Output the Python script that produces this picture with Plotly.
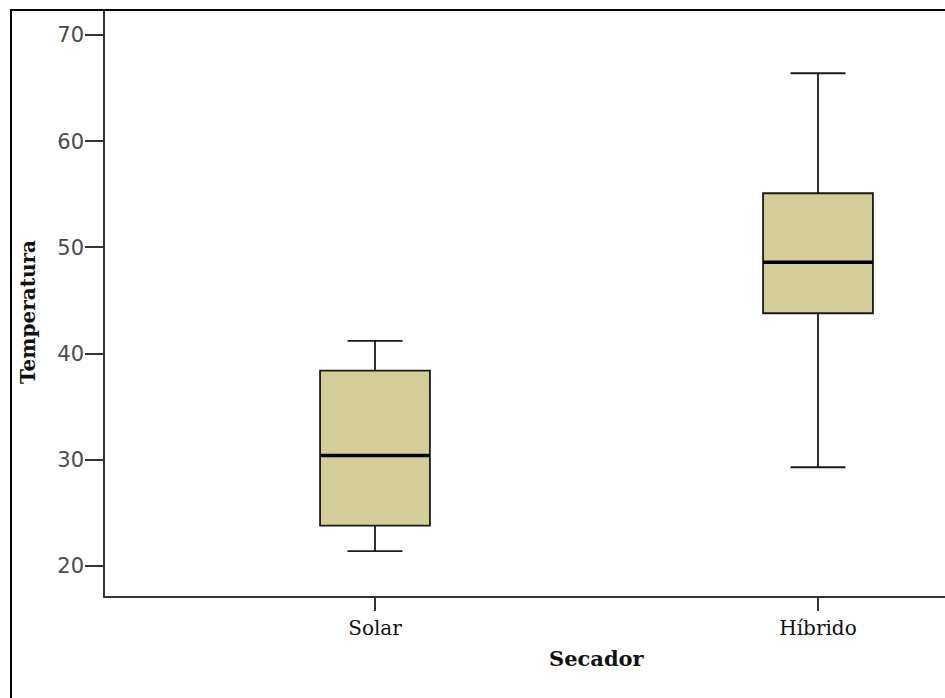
import plotly.graph_objects as go

# Summary statistics of temperature per dryer type
secadores = ["Solar", "Híbrido"]
minimos = [21.4, 29.3]
q1 = [23.8, 43.8]
medianas = [30.4, 48.6]
q3 = [38.4, 55.1]
maximos = [41.2, 66.4]

y_ticks = [20, 30, 40, 50, 60, 70]

pos = list(range(len(secadores)))
box_w = 0.248
fill = "#D3CE99"

fig = go.Figure()
for i, nombre in enumerate(secadores):
    fig.add_trace(go.Box(
        x=[pos[i]],
        q1=[q1[i]], median=[medianas[i]], q3=[q3[i]],
        lowerfence=[minimos[i]], upperfence=[maximos[i]],
        width=box_w, whiskerwidth=0.5,
        fillcolor=fill,
        line=dict(color="#1a1a1a", width=1.8),
        boxpoints=False, hoverinfo="skip", showlegend=False,
        name=nombre,
    ))
    # heavier median stroke
    fig.add_trace(go.Scatter(
        x=[pos[i] - box_w / 2, pos[i] + box_w / 2],
        y=[medianas[i], medianas[i]],
        mode="lines", line=dict(color="black", width=3.5),
        hoverinfo="skip", showlegend=False,
    ))

serif = "DejaVu Serif"

fig.update_layout(
    width=945, height=698,
    margin=dict(l=105, r=0, t=10, b=102),
    paper_bgcolor="white", plot_bgcolor="white",
    xaxis=dict(
        range=[-0.6095, 1.2867],
        tickvals=pos, ticktext=secadores,
        ticks="outside", ticklen=13, tickwidth=1.5, tickcolor="#333",
        showline=True, linecolor="#333", linewidth=1.5,
        showgrid=False, zeroline=False,
        tickfont=dict(family=serif, size=20, color="#111"),
    ),
    yaxis=dict(
        range=[17.175, 72.354],
        tickvals=y_ticks,
        ticks="outside", ticklen=18, tickwidth=1.5, tickcolor="#333",
        showline=True, linecolor="#333", linewidth=1.5,
        showgrid=False, zeroline=False,
        tickfont=dict(family="DejaVu Sans", size=21, color="#4a4a4a"),
        ticklabelstandoff=-3,
    ),
    annotations=[
        dict(text="<b>Temperatura</b>", xref="paper", yref="paper",
             x=-0.0917, y=0.4846, textangle=-90, showarrow=False,
             xanchor="center", yanchor="middle",
             font=dict(family=serif, size=20, color="#111")),
        dict(text="<b>Secador</b>", xref="x", yref="paper",
             x=sum(pos) / len(pos), y=-0.1075, showarrow=False,
             xanchor="center", yanchor="middle",
             font=dict(family=serif, size=21, color="#111")),
    ],
    shapes=[
        dict(type="path", xref="paper", yref="paper",
             path="M -0.1119,-0.3 L -0.1119,1 L 1.01,1",
             line=dict(color="black", width=2)),
    ],
)

fig.write_html("out.html")
